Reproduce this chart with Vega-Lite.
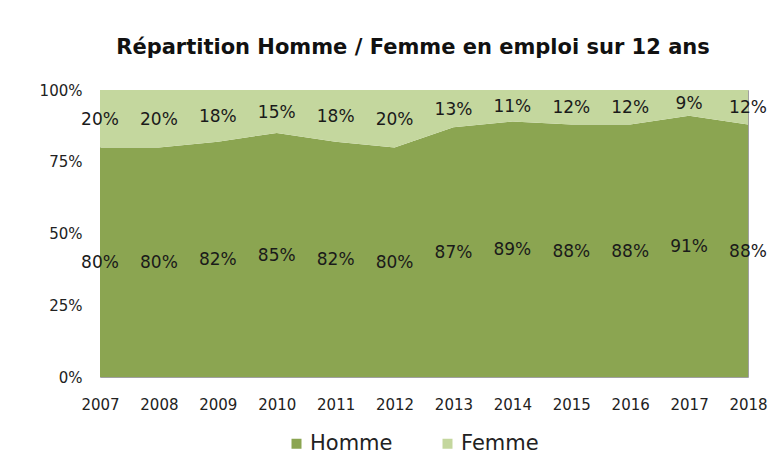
{
  "$schema": "https://vega.github.io/schema/vega-lite/v6.json",
  "width": 648,
  "height": 287,
  "autosize": {"type": "none"},
  "padding": {"left": 100, "top": 90, "right": 28, "bottom": 91},
  "background": "white",
  "title": {
    "text": "Répartition Homme / Femme en emploi sur 12 ans",
    "font": "DejaVu Sans",
    "fontSize": 21,
    "fontWeight": "bold",
    "color": "#111111",
    "offset": 25,
    "dx": -11
  },
  "config": {
    "view": {"stroke": "#a0a0a0", "strokeWidth": 1},
    "font": "DejaVu Sans"
  },
  "data": {
    "values": [
      {"annee": "2007", "genre": "Homme", "pct": 0.80}, {"annee": "2007", "genre": "Femme", "pct": 0.20},
      {"annee": "2008", "genre": "Homme", "pct": 0.80}, {"annee": "2008", "genre": "Femme", "pct": 0.20},
      {"annee": "2009", "genre": "Homme", "pct": 0.82}, {"annee": "2009", "genre": "Femme", "pct": 0.18},
      {"annee": "2010", "genre": "Homme", "pct": 0.85}, {"annee": "2010", "genre": "Femme", "pct": 0.15},
      {"annee": "2011", "genre": "Homme", "pct": 0.82}, {"annee": "2011", "genre": "Femme", "pct": 0.18},
      {"annee": "2012", "genre": "Homme", "pct": 0.80}, {"annee": "2012", "genre": "Femme", "pct": 0.20},
      {"annee": "2013", "genre": "Homme", "pct": 0.87}, {"annee": "2013", "genre": "Femme", "pct": 0.13},
      {"annee": "2014", "genre": "Homme", "pct": 0.89}, {"annee": "2014", "genre": "Femme", "pct": 0.11},
      {"annee": "2015", "genre": "Homme", "pct": 0.88}, {"annee": "2015", "genre": "Femme", "pct": 0.12},
      {"annee": "2016", "genre": "Homme", "pct": 0.88}, {"annee": "2016", "genre": "Femme", "pct": 0.12},
      {"annee": "2017", "genre": "Homme", "pct": 0.91}, {"annee": "2017", "genre": "Femme", "pct": 0.09},
      {"annee": "2018", "genre": "Homme", "pct": 0.88}, {"annee": "2018", "genre": "Femme", "pct": 0.12}
    ]
  },
  "transform": [
    {"calculate": "datum.genre === 'Homme' ? 0 : 1", "as": "ord"},
    {"stack": "pct", "groupby": ["annee"], "sort": [{"field": "ord", "order": "ascending"}], "as": ["y0", "y1"]},
    {"calculate": "(datum.y0 + datum.y1) / 2", "as": "ymid"}
  ],
  "encoding": {
    "x": {
      "field": "annee",
      "type": "ordinal",
      "scale": {"type": "point", "padding": 0},
      "axis": {
        "title": null,
        "labelAngle": 0,
        "labelFontSize": 15,
        "labelColor": "#222",
        "labelPadding": 20,
        "domain": false,
        "ticks": false
      }
    }
  },
  "layer": [
    {
      "mark": {"type": "area", "line": false, "opacity": 1},
      "encoding": {
        "y": {
          "field": "y1",
          "type": "quantitative",
          "scale": {"domain": [0, 1]},
          "axis": {
            "title": null,
            "values": [0, 0.25, 0.5, 0.75, 1],
            "format": ".0%",
            "labelFontSize": 15,
            "labelColor": "#222",
            "labelPadding": 18,
            "grid": false,
            "domain": false,
            "ticks": false
          }
        },
        "y2": {"field": "y0"},
        "color": {
          "field": "genre",
          "type": "nominal",
          "scale": {"domain": ["Homme", "Femme"], "range": ["#8ba551", "#c4d79e"]},
          "legend": {
            "title": null,
            "orient": "none",
            "legendX": 186,
            "legendY": 343,
            "direction": "horizontal",
            "symbolType": "square",
            "symbolSize": 100,
            "symbolOpacity": 1,
            "labelFontSize": 21,
            "labelFont": "DejaVu Sans",
            "labelColor": "#222",
            "labelOffset": 3,
            "columnPadding": 44
          }
        },
        "order": {"field": "ord", "type": "quantitative"}
      }
    },
    {
      "mark": {"type": "text", "fontSize": 17, "color": "#1a1a1a", "dy": 1},
      "encoding": {
        "y": {"field": "ymid", "type": "quantitative"},
        "text": {"field": "pct", "type": "quantitative", "format": ".0%"}
      }
    }
  ]
}
